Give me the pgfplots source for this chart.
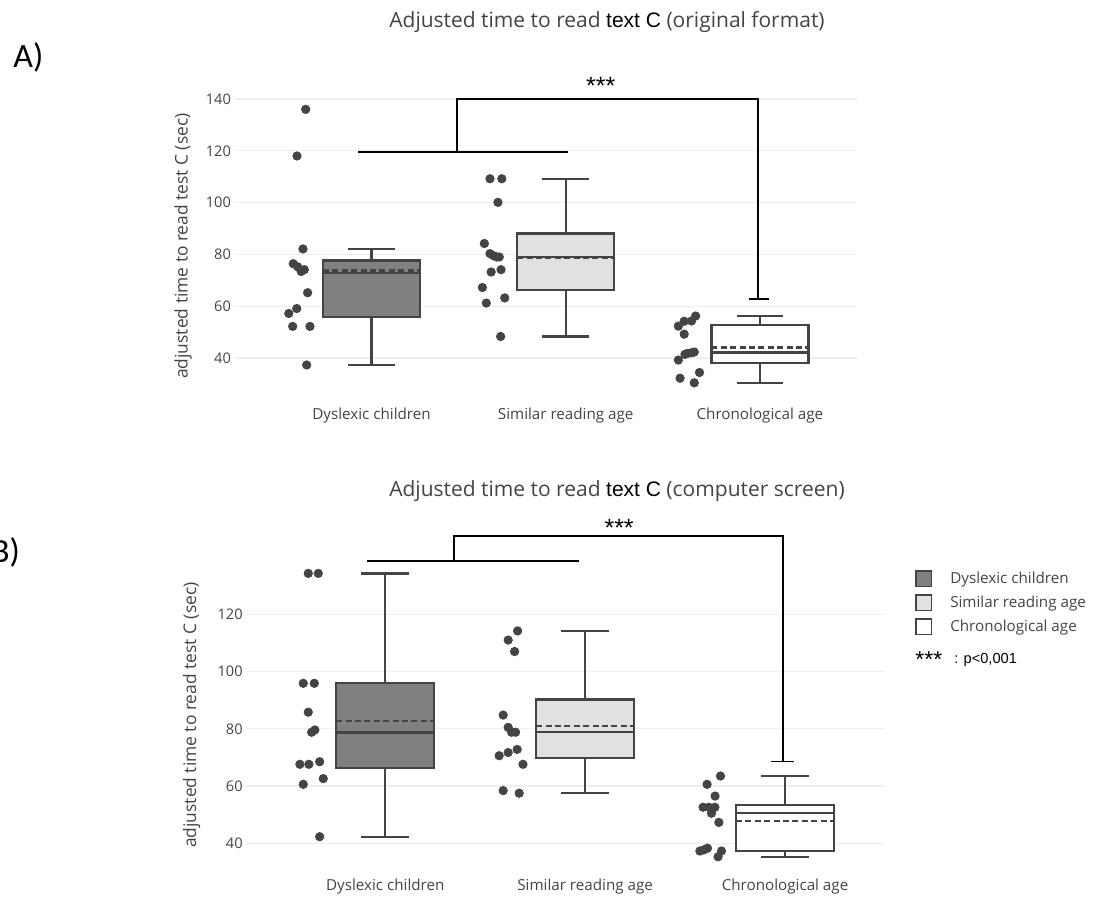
\documentclass[border=0pt]{standalone}
\usepackage{fontspec}
\setmainfont{Open Sans}
\newfontfamily\arial{Liberation Sans}
\newfontfamily\calibri{Carlito}
\usepackage{pgfplots}
\pgfplotsset{compat=1.18}
\definecolor{c444}{HTML}{444444}
\definecolor{cdys}{HTML}{808080}
\definecolor{csim}{HTML}{E1E1E1}
\definecolor{cgrid}{HTML}{EEEEEE}
\pgfplotsset{
  myax/.style={
    scale only axis, anchor=south west,
    xtick={0,1,2},
    xticklabels={Dyslexic children, Similar reading age, Chronological age},
    ymajorgrids, grid style={cgrid, line width=0.6pt},
    axis line style={draw=none}, major tick length=0pt,
    /pgf/number format/assume math mode=true,
    tick label style={text=c444},
    yticklabel style={font=\fontsize{7.3}{8}\selectfont, xshift=1.5pt},
    xticklabel style={font=\fontsize{7.6}{9}\selectfont, yshift=-1.8pt},
    ylabel={adjusted time to read test C (sec)},
    clip=false,
  },
  bxs/.style={draw=c444, line width=1.2pt, mark=none, solid, forget plot},
  pts/.style={only marks, mark=*, mark size=2.1pt, color=c444, forget plot, mark options={draw=c444, fill=c444}},
}
% #1 centre, #2 half width, #3 fill, #4 lower whisker, #5 lower quartile,
% #6 median, #7 upper quartile, #8 upper whisker, #9 mean
\newcommand{\mybox}[9]{%
  \pgfmathsetmacro{\bxL}{#1-#2}\pgfmathsetmacro{\bxR}{#1+#2}%
  \pgfmathsetmacro{\cpL}{#1-0.12}\pgfmathsetmacro{\cpR}{#1+0.12}%
  \addplot[bxs] coordinates {(#1,#7) (#1,#8)};
  \addplot[bxs] coordinates {(\cpL,#8) (\cpR,#8)};
  \addplot[bxs] coordinates {(#1,#5) (#1,#4)};
  \addplot[bxs] coordinates {(\cpL,#4) (\cpR,#4)};
  \addplot[bxs, fill=#3] coordinates {(\bxL,#5) (\bxR,#5) (\bxR,#7) (\bxL,#7)} -- cycle;
  \addplot[bxs] coordinates {(\bxL,#6) (\bxR,#6)};
  \addplot[bxs, dash pattern=on 3pt off 1.7pt] coordinates {(\bxL,#9) (\bxR,#9)};
}
\begin{document}
\begin{tikzpicture}
\useasboundingbox (0,0) rectangle (552.5pt,-448.5pt);

% ---------- panel A ----------
\begin{axis}[myax,
  at={(117.5pt,-198.5pt)}, width=311pt, height=158.5pt,
  xmin=-0.703, xmax=2.5, ymin=24.94, ymax=147.34,
  ytick={40,60,...,140},
  ylabel style={font=\fontsize{8.7}{10}\selectfont, text=c444, at={(axis description cs:-0.0836,0.476)}, anchor=center},
]
\mybox{0}{0.25}{cdys}{37.3}{55.9}{72.9}{77.7}{82.1}{73.8}
\mybox{1}{0.25}{csim}{48.3}{66.2}{79.0}{88.1}{109.2}{78.7}
\mybox{2}{0.25}{white}{30.4}{38.1}{42.1}{52.7}{56.2}{44.0}
\addplot[pts] table {
x y
-0.339 136.0
-0.384 118.0
-0.353 82.1
-0.403 76.4
-0.380 75.2
-0.346 74.1
-0.362 73.4
-0.329 65.2
-0.385 59.1
-0.426 57.2
-0.406 52.2
-0.317 52.2
-0.334 37.3
};
\addplot[pts] table {
x y
0.610 109.2
0.671 109.2
0.651 100.1
0.581 84.2
0.610 80.3
0.628 79.5
0.645 79.0
0.658 79.0
0.616 73.2
0.667 74.1
0.571 67.2
0.591 61.2
0.686 63.2
0.665 48.3
};
\addplot[pts] table {
x y
1.669 56.2
1.648 54.3
1.610 54.2
1.580 52.3
1.610 49.2
1.662 42.3
1.648 42.0
1.628 41.8
1.614 41.4
1.580 39.2
1.589 32.2
1.689 34.4
1.662 30.4
};
\draw[black, line width=0.75pt] (axis cs:-0.07,119.5) -- (axis cs:1.01,119.5);
\draw[black, line width=0.75pt] (axis cs:0.44,119.5) -- (axis cs:0.44,140) -- (axis cs:1.99,140) -- (axis cs:1.99,62.8);
\draw[black, line width=0.75pt] (axis cs:1.945,62.8) -- (axis cs:2.045,62.8);
\node[font=\arial\fontsize{12.5}{13}\selectfont, text=black] at (axis cs:1.18,145.0) {***};
\end{axis}

% ---------- panel B ----------
\begin{axis}[myax,
  at={(123.35pt,-434pt)}, width=319.15pt, height=176.5pt,
  xmin=-0.693, xmax=2.5, ymin=31.37, ymax=154.7,
  ytick={40,60,...,120},
  ylabel style={font=\fontsize{8.7}{10}\selectfont, text=c444, at={(axis description cs:-0.0862,0.433)}, anchor=center},
  legend style={at={(axis description cs:1.047,0.852)}, anchor=north west, draw=none, fill=none,
    font=\fontsize{7.6}{9}\selectfont, text=c444, row sep=0.7pt, inner sep=0pt},
  legend cell align=left,
]
\addlegendimage{legend image code/.code={\draw[c444, line width=0.9pt, fill=cdys] (0pt,-3.8pt) rectangle (7.6pt,3.8pt); \path (14.8pt,0pt);}}
\addlegendentry{Dyslexic children}
\addlegendimage{legend image code/.code={\draw[c444, line width=0.9pt, fill=csim] (0pt,-3.8pt) rectangle (7.6pt,3.8pt); \path (14.8pt,0pt);}}
\addlegendentry{Similar reading age}
\addlegendimage{legend image code/.code={\draw[c444, line width=0.9pt, fill=white] (0pt,-3.8pt) rectangle (7.6pt,3.8pt); \path (14.8pt,0pt);}}
\addlegendentry{Chronological age}
\mybox{0}{0.245}{cdys}{42.3}{66.4}{78.7}{95.9}{134.3}{82.7}
\mybox{1}{0.245}{csim}{57.5}{69.9}{78.8}{90.3}{114.2}{81.0}
\mybox{2}{0.245}{white}{35.3}{37.4}{50.5}{53.4}{63.5}{47.8}
\addplot[pts] table {
x y
-0.385 134.3
-0.335 134.3
-0.410 95.9
-0.355 95.9
-0.385 85.8
-0.368 78.8
-0.352 79.6
-0.427 67.6
-0.382 67.6
-0.328 68.5
-0.410 60.6
-0.310 62.6
-0.328 42.3
};
\addplot[pts] table {
x y
0.662 114.2
0.615 111.0
0.647 107.0
0.590 84.8
0.615 80.5
0.632 78.8
0.652 78.8
0.660 72.8
0.615 71.7
0.570 70.6
0.689 67.6
0.590 58.4
0.670 57.5
};
\addplot[pts] table {
x y
1.677 63.5
1.610 60.6
1.650 56.5
1.590 52.6
1.619 52.6
1.649 52.6
1.632 50.5
1.669 47.3
1.574 37.3
1.594 37.7
1.612 38.3
1.682 37.3
1.665 35.3
};
\draw[black, line width=0.75pt] (axis cs:-0.093,138.6) -- (axis cs:0.97,138.6);
\draw[black, line width=0.75pt] (axis cs:0.344,138.6) -- (axis cs:0.344,147.4) -- (axis cs:1.99,147.4) -- (axis cs:1.99,68.5);
\draw[black, line width=0.75pt] (axis cs:1.93,68.5) -- (axis cs:2.045,68.5);
\node[font=\arial\fontsize{12.5}{13}\selectfont, text=black] at (axis cs:1.17,150.2) {***};
\end{axis}

% ---------- titles and annotations ----------
\node[text=c444, font=\fontsize{10.5}{12}\selectfont] at (303.5pt,-11pt)
  {Adjusted time to read {\arial\color{black}text C} (original format)};
\node[text=c444, font=\fontsize{10.5}{12}\selectfont] at (308.5pt,-245.5pt)
  {Adjusted time to read {\arial\color{black}text C} (computer screen)};
\node[font=\calibri\fontsize{17}{19}\selectfont, anchor=west, inner sep=0pt] at (6.5pt,-28.5pt) {A)};
\node[font=\calibri\fontsize{17}{19}\selectfont, anchor=east, inner sep=0pt] at (10.2pt,-276pt) {B)};
\node[anchor=west, inner sep=0pt, font=\arial] at (457.5pt,-330pt)
  {\raisebox{-2.4pt}{\fontsize{11.5}{12}\selectfont ***}\hspace{6pt}{\fontsize{7.3}{9}\selectfont : p<0,001}};
\end{tikzpicture}
\end{document}
